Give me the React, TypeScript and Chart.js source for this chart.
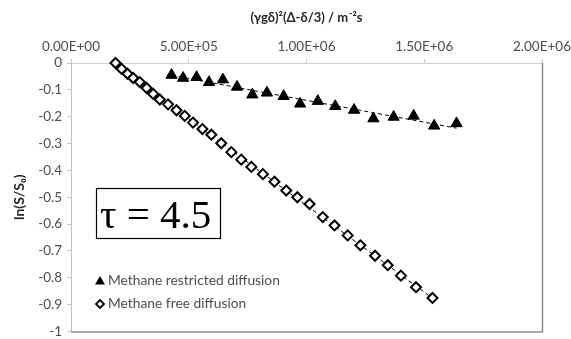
import React, { useEffect, useRef } from "react";
import { Chart, registerables } from "chart.js";

Chart.register(...registerables);

// Methane restricted diffusion (filled triangles)
const restrictedX = [
  0.427e6, 0.476e6, 0.533e6, 0.586e6, 0.645e6, 0.705e6, 0.77e6, 0.832e6, 0.903e6,
  0.973e6, 1.048e6, 1.122e6, 1.202e6, 1.284e6, 1.37e6, 1.455e6, 1.542e6, 1.637e6,
];
const restrictedY = [
  -0.045, -0.056, -0.053, -0.072, -0.062, -0.089, -0.118, -0.111, -0.124,
  -0.152, -0.142, -0.161, -0.175, -0.207, -0.201, -0.197, -0.234, -0.225,
];

// Methane free diffusion (open diamonds)
const freeX = [
  0.189e6, 0.215e6, 0.24e6, 0.264e6, 0.292e6, 0.321e6, 0.349e6, 0.377e6, 0.412e6,
  0.448e6, 0.483e6, 0.518e6, 0.558e6, 0.596e6, 0.638e6, 0.681e6, 0.723e6, 0.766e6,
  0.815e6, 0.864e6, 0.914e6, 0.961e6, 1.013e6, 1.069e6, 1.119e6, 1.175e6, 1.229e6,
  1.291e6, 1.345e6, 1.401e6, 1.465e6, 1.535e6,
];
const freeY = [
  0, -0.022, -0.04, -0.056, -0.071, -0.093, -0.115, -0.136, -0.154,
  -0.176, -0.197, -0.222, -0.246, -0.267, -0.299, -0.332, -0.36, -0.387,
  -0.414, -0.442, -0.475, -0.5, -0.525, -0.574, -0.605, -0.642, -0.679,
  -0.718, -0.753, -0.792, -0.835, -0.875,
];

const xTicks = [0, 5e5, 1e6, 1.5e6, 2e6];
const yTicks = [0, -0.1, -0.2, -0.3, -0.4, -0.5, -0.6, -0.7, -0.8, -0.9, -1];

const seriesNames = ["Methane restricted diffusion", "Methane free diffusion"];
const xTitle = "(γgδ)²(Δ-δ/3) / m⁻²s";
const yTitle = "ln(S/S₀)";
const boxText = "τ = 4.5";

function fitLine(xs: number[], ys: number[]) {
  const n = xs.length;
  const mx = xs.reduce((a, b) => a + b, 0) / n;
  const my = ys.reduce((a, b) => a + b, 0) / n;
  let sxy = 0;
  let sxx = 0;
  for (let i = 0; i < n; i++) {
    sxy += (xs[i] - mx) * (ys[i] - my);
    sxx += (xs[i] - mx) * (xs[i] - mx);
  }
  const m = sxy / sxx;
  const b = my - m * mx;
  const x0 = Math.min(...xs);
  const x1 = Math.max(...xs);
  return [
    { x: x0, y: m * x0 + b },
    { x: x1, y: m * x1 + b },
  ];
}

function sci(v: number) {
  if (v === 0) return "0.00E+00";
  const e = Math.floor(Math.log10(Math.abs(v)));
  const m = v / Math.pow(10, e);
  const es = (e < 0 ? "-" : "+") + String(Math.abs(e)).padStart(2, "0");
  return m.toFixed(2) + "E" + es;
}

const TICK_FONT = "Lato";
const GRAY = "#4d4d4d";

const overlay = {
  id: "overlay",
  beforeDatasetsDraw(chart: any) {
    const { ctx, chartArea: a } = chart;
    ctx.save();
    ctx.strokeStyle = "#8c8c8c";
    ctx.lineWidth = 1.5;
    ctx.beginPath();
    ctx.moveTo(a.right + 0.5, a.top);
    ctx.lineTo(a.right + 0.5, a.bottom + 0.5);
    ctx.lineTo(a.left, a.bottom + 0.5);
    ctx.stroke();
    ctx.restore();
  },
  afterDraw(chart: any) {
    const { ctx, chartArea: a } = chart;
    ctx.save();
    // tau box
    const bx = a.left + 25;
    const by = a.top + 125;
    ctx.strokeStyle = "#000";
    ctx.lineWidth = 1.2;
    ctx.strokeRect(bx + 0.5, by + 0.5, 124, 50);
    ctx.fillStyle = "#000";
    ctx.font = '41px "Liberation Serif", "Times New Roman", serif';
    ctx.textBaseline = "alphabetic";
    ctx.textAlign = "left";
    ctx.fillText(boxText, bx + 4, by + 40);

    // legend
    const lx = a.left + 29;
    const ly1 = a.top + 218;
    const ly2 = a.top + 241;
    ctx.fillStyle = "#000";
    ctx.beginPath();
    ctx.moveTo(lx, ly1 - 5);
    ctx.lineTo(lx + 5, ly1 + 3.5);
    ctx.lineTo(lx - 5, ly1 + 3.5);
    ctx.closePath();
    ctx.fill();
    ctx.strokeStyle = "#000";
    ctx.lineWidth = 1.8;
    ctx.fillStyle = "#fff";
    ctx.beginPath();
    ctx.moveTo(lx, ly2 - 4);
    ctx.lineTo(lx + 4, ly2);
    ctx.lineTo(lx, ly2 + 4);
    ctx.lineTo(lx - 4, ly2);
    ctx.closePath();
    ctx.fill();
    ctx.stroke();
    ctx.fillStyle = GRAY;
    ctx.font = `13.8px ${TICK_FONT}`;
    ctx.textBaseline = "middle";
    ctx.fillText(seriesNames[0], lx + 8, ly1);
    ctx.fillText(seriesNames[1], lx + 8, ly2);
    ctx.restore();
  },
};

export default function App() {
  const ref = useRef<HTMLCanvasElement | null>(null);

  useEffect(() => {
    if (!ref.current) return;
    const restricted = restrictedX.map((x, i) => ({ x, y: restrictedY[i] }));
    const free = freeX.map((x, i) => ({ x, y: freeY[i] }));
    const chart = new Chart(ref.current, {
      type: "scatter",
      data: {
        datasets: [
          {
            label: seriesNames[0],
            data: restricted,
            pointStyle: "triangle",
            pointRadius: 6.5,
            backgroundColor: "#000",
            borderColor: "#000",
            borderWidth: 1,
            clip: false,
          },
          {
            label: seriesNames[1],
            data: free,
            pointStyle: "rectRot",
            pointRadius: 5,
            backgroundColor: "#fff",
            borderColor: "#000",
            borderWidth: 2,
            clip: false,
          },
          {
            type: "line",
            label: "trend restricted",
            data: fitLine(restrictedX, restrictedY),
            borderColor: "#000",
            borderWidth: 1,
            borderDash: [4, 3],
            pointRadius: 0,
            fill: false,
            clip: false,
          },
          {
            type: "line",
            label: "trend free",
            data: fitLine(freeX, freeY),
            borderColor: "#000",
            borderWidth: 1,
            borderDash: [4, 3],
            pointRadius: 0,
            fill: false,
            clip: false,
          },
        ] as any,
      },
      options: {
        responsive: false,
        animation: false,
        layout: { padding: { top: 0, right: 29, bottom: 4, left: 0 } },
        plugins: {
          legend: { display: false },
          tooltip: { enabled: false },
        },
        scales: {
          x: {
            type: "linear",
            position: "top",
            min: 0,
            max: 2e6,
            afterBuildTicks: (s: any) => {
              s.ticks = xTicks.map((v) => ({ value: v }));
            },
            afterFit: (s: any) => {
              s.height = 63;
              s.paddingLeft = 0;
              s.paddingRight = 0;
            },
            ticks: {
              callback: (v: any) => sci(Number(v)),
              font: { family: TICK_FONT, size: 13.5 },
              color: GRAY,
              padding: 4,
              maxRotation: 0,
            },
            grid: {
              drawOnChartArea: false,
              drawTicks: true,
              tickLength: 4,
              color: "#c8c8c8",
            },
            border: { color: "#d0d0d0" },
            title: {
              display: true,
              text: xTitle,
              font: { family: TICK_FONT, size: 13, weight: "bold" },
              color: "#262626",
              padding: { top: 10, bottom: 0 },
            },
          },
          y: {
            type: "linear",
            min: -1,
            max: 0,
            afterBuildTicks: (s: any) => {
              s.ticks = yTicks.map((v) => ({ value: v }));
            },
            afterFit: (s: any) => {
              s.width = 71;
              s.paddingTop = 0;
              s.paddingBottom = 0;
            },
            ticks: {
              callback: (v: any) => {
                const n = Number(Number(v).toFixed(1));
                return n === 0 ? "0" : String(n);
              },
              font: { family: TICK_FONT, size: 13.5 },
              color: GRAY,
              padding: 5,
            },
            grid: {
              drawOnChartArea: false,
              drawTicks: true,
              tickLength: 4,
              color: "#c8c8c8",
            },
            border: { color: "#bfbfbf" },
            title: {
              display: true,
              text: yTitle,
              font: { family: TICK_FONT, size: 14, weight: "bold" },
              color: "#262626",
              padding: { top: 11, bottom: 0 },
            },
          },
        },
      } as any,
      plugins: [overlay],
    });
    return () => chart.destroy();
  }, []);

  return (
    <div style={{ position: "fixed", left: 0, top: 0, width: 571, height: 339, background: "#fff" }}>
      <canvas ref={ref} width={571} height={339} style={{ display: "block" }} />
    </div>
  );
}
